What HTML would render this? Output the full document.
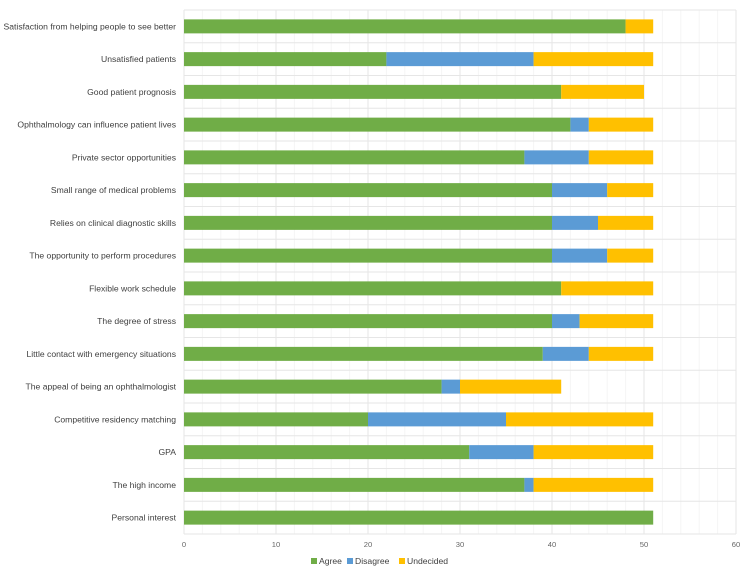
<!DOCTYPE html>
<html><head><meta charset="utf-8"><style>
body{margin:0;background:#fff;font-family:"Liberation Sans",sans-serif}
svg{display:block}
</style></head><body>
<svg id="c" width="750" height="577" xmlns="http://www.w3.org/2000/svg"></svg>
<script>
const categories=["Satisfaction from helping people to see better","Unsatisfied patients","Good patient prognosis","Ophthalmology can influence patient lives","Private sector opportunities","Small range of medical problems","Relies on clinical diagnostic skills","The opportunity to perform procedures","Flexible work schedule","The degree of stress","Little contact with emergency situations","The appeal of being an ophthalmologist","Competitive residency matching","GPA","The high income","Personal interest"];
const agree=[48,22,41,42,37,40,40,40,41,40,39,28,20,31,37,51];
const disagree=[0,16,0,2,7,6,5,6,0,3,5,2,15,7,1,0];
const undecided=[3,13,9,7,7,5,6,5,10,8,7,11,16,13,13,0];
const ticks=[0,10,20,30,40,50,60];
const seriesNames=["Agree","Disagree","Undecided"];
const colors=["#70ad47","#5b9bd5","#ffc000"];
const svg=document.getElementById('c');
const NS='http://www.w3.org/2000/svg';
const x0=184,x1=736,plotTop=10,plotBot=534;
const X=v=>x0+(x1-x0)*v/60;
const band=(plotBot-plotTop)/categories.length;
function mk(t,a,p){const e=document.createElementNS(NS,t);for(const k in a)e.setAttribute(k,a[k]);(p||svg).appendChild(e);return e;}
for(let v=0;v<=60;v+=2){const g=mk('line',{x1:X(v),x2:X(v),y1:plotTop,y2:plotBot,stroke:v%10?'#f5f5f5':'#e6e6e6','stroke-width':1});

}
for(let i=0;i<=categories.length;i++){const g=mk('line',{x1:x0,x2:x1,y1:plotTop+i*band,y2:plotTop+i*band,stroke:'#e6e6e6'});

}
const data=[agree,disagree,undecided];
categories.forEach((c,i)=>{
 const cy=plotTop+band*(i+0.5);
 const t=mk('text',{x:176,y:cy+3,'text-anchor':'end','font-size':'8.6',fill:'#404040'});t.textContent=c;
 
 
 let acc=0;
 data.forEach((s,k)=>{if(s[i]>0){const r=mk('rect',{x:X(acc),y:cy-7,width:X(acc+s[i])-X(acc),height:14,fill:colors[k]});
 
 }
 acc+=s[i];});
});
ticks.forEach(v=>{const t=mk('text',{x:X(v),y:547,'text-anchor':'middle','font-size':'7.6',fill:'#666'});t.textContent=v;

});
const lx=[311,347,399];
seriesNames.forEach((n,k)=>{
 const r=mk('rect',{x:lx[k],y:558,width:6,height:6,fill:colors[k]});
 
 
 const t=mk('text',{x:lx[k]+8,y:564,'font-size':'8.6',fill:'#404040'});t.textContent=n;
 
 
});
</script>
</body></html>
